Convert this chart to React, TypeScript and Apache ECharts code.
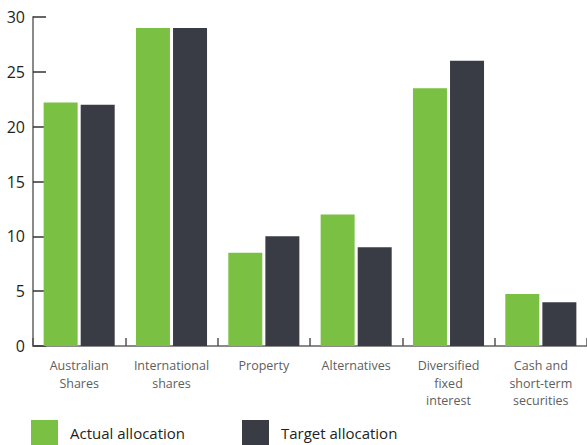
import React, { useEffect, useRef } from "react";
import * as echarts from "echarts";

const categories = [
  "Australian\nShares",
  "International\nshares",
  "Property",
  "Alternatives",
  "Diversified\nfixed\ninterest",
  "Cash and\nshort-term\nsecurities",
];
const actualAllocation = [22.2, 29, 8.5, 12, 23.5, 4.75];
const targetAllocation = [22, 29, 10, 9, 26, 4];
const seriesNames = ["Actual allocation", "Target allocation"];
const yTicks = { min: 0, max: 30, interval: 5 };

const GREEN = "#7ac143";
const DARK = "#393c44";
const FONT = "'Open Sans', sans-serif";

export default function App() {
  const ref = useRef<HTMLDivElement>(null);
  useEffect(() => {
    if (!ref.current) return;
    const chart = echarts.init(ref.current, null, { renderer: "svg" });
    const legendBase = {
      icon: "rect",
      itemWidth: 27,
      itemHeight: 25,
      top: 420,
      padding: 0,
      selectedMode: false,
      textStyle: {
        fontFamily: FONT,
        fontSize: 15,
        color: "#231f20",
        padding: [4, 0, 0, 7],
      },
    };
    chart.setOption({
      animation: false,
      backgroundColor: "#ffffff",
      grid: { left: 33, right: -3, top: 17, bottom: 99, containLabel: false },
      legend: [
        { ...legendBase, left: 31, data: [seriesNames[0]] },
        { ...legendBase, left: 242, data: [seriesNames[1]] },
      ],
      xAxis: {
        type: "category",
        data: categories,
        axisLine: { lineStyle: { color: "#8a8a8a", width: 2 } },
        axisTick: {
          show: true,
          inside: true,
          length: 8,
          lineStyle: { color: "#555", width: 1.5 },
        },
        axisLabel: {
          color: "#5e5e5e",
          fontFamily: FONT,
          fontSize: 12.5,
          lineHeight: 17.5,
          margin: 11,
          interval: 0,
        },
        splitLine: { show: false },
      },
      yAxis: {
        type: "value",
        min: yTicks.min,
        max: yTicks.max,
        interval: yTicks.interval,
        axisLine: { show: true, lineStyle: { color: "#8a8a8a", width: 2 } },
        axisTick: {
          show: true,
          inside: true,
          length: 13,
          lineStyle: { color: "#333", width: 1.5 },
        },
        axisLabel: {
          color: "#231f20",
          fontFamily: FONT,
          fontSize: 16,
          margin: 8,
        },
        splitLine: { show: false },
      },
      series: [
        {
          name: seriesNames[0],
          type: "bar",
          data: actualAllocation,
          barWidth: 34,
          barGap: "9%",
          itemStyle: { color: GREEN },
        },
        {
          name: seriesNames[1],
          type: "bar",
          data: targetAllocation,
          barWidth: 34,
          barGap: "9%",
          itemStyle: { color: DARK },
        },
      ],
    });
    return () => chart.dispose();
  }, []);
  return <div ref={ref} style={{ width: 587, height: 445, position: "absolute", left: 0, top: 0 }} />;
}
